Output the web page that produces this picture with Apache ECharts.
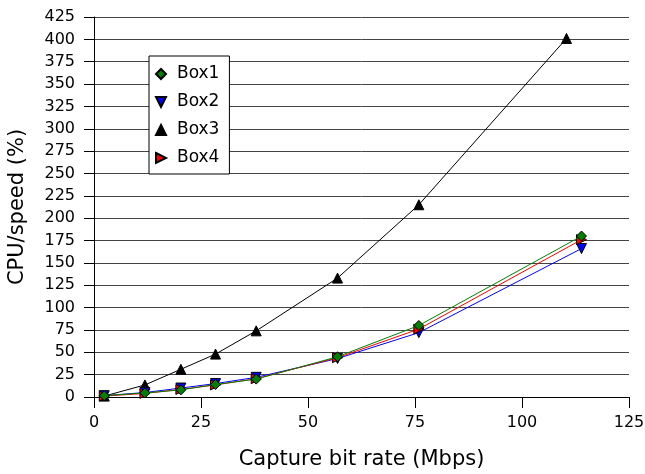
<!DOCTYPE html>
<html>
<head>
<meta charset="utf-8">
<script src="https://cdn.jsdelivr.net/npm/echarts@6/dist/echarts.min.js"></script>
<style>
  html, body { margin: 0; padding: 0; background: #fff; }
  #chart { width: 645px; height: 474px; }
</style>
</head>
<body>
<div id="chart"></div>
<script>
// capture bit rate (Mbps)
const bitRates = [2.4, 11.9, 20.3, 28.4, 37.9, 56.9, 75.9, 113.9];
const box3BitRates = [2.4, 11.9, 20.3, 28.4, 37.9, 56.9, 75.9, 110.4];

// CPU/speed (%)
const box1 = [1.5, 4.5, 8, 14, 20, 45, 80, 180];
const box2 = [1.5, 5, 10, 15, 22, 43, 72, 166];
const box3 = [1, 13.5, 31, 48, 74, 133, 215, 401];
const box4 = [1, 4, 8.5, 13.5, 20.5, 44, 76, 176];

const FONT = 'DejaVu Sans';
const DOWN = 'path://M0,0 L10,0 L5,10 Z';
const RIGHT = 'path://M0,0 L10,5 L0,10 Z';

const pairs = (xs, ys) => xs.map((x, i) => [x, ys[i]]);

function makeSeries(name, xs, ys, color, symbol, z) {
  return {
    name,
    type: 'line',
    data: pairs(xs, ys),
    symbol,
    symbolSize: 10,
    z,
    lineStyle: { color, width: 1 },
    itemStyle: { color, borderColor: '#000', borderWidth: 1 },
    emphasis: { disabled: true },
    animation: false
  };
}

const chart = echarts.init(document.getElementById('chart'));
chart.setOption({
  animation: false,
  textStyle: { fontFamily: FONT, color: '#000' },
  grid: { left: 94, right: 16, top: 17, bottom: 77, containLabel: false, outerBoundsMode: 'none' },
  legend: {
    orient: 'vertical',
    left: 149,
    top: 56,
    padding: [9, 10, 7, 6],
    itemGap: 10,
    itemWidth: 10,
    itemHeight: 10,
    backgroundColor: '#fff',
    borderColor: '#000',
    borderWidth: 1,
    borderRadius: 0,
    textStyle: { fontFamily: FONT, fontSize: 17, color: '#000', lineHeight: 18, padding: [0, 0, 0, 6] },
    data: [
      { name: 'Box1', icon: 'diamond' },
      { name: 'Box2', icon: DOWN },
      { name: 'Box3', icon: 'triangle' },
      { name: 'Box4', icon: RIGHT }
    ]
  },
  xAxis: {
    type: 'value',
    min: 0,
    max: 125,
    interval: 25,
    name: 'Capture bit rate (Mbps)',
    nameLocation: 'middle',
    nameMoveOverlap: false,
    nameGap: 52,
    nameTextStyle: { fontFamily: FONT, fontSize: 21, color: '#000' },
    axisLine: { onZero: false, lineStyle: { color: '#000', width: 1 } },
    axisTick: { show: true, length: 11, lineStyle: { color: '#000' } },
    axisLabel: { fontFamily: FONT, fontSize: 16, color: '#000', margin: 18 },
    splitLine: { show: false }
  },
  yAxis: {
    type: 'value',
    min: 0,
    max: 425,
    interval: 25,
    name: 'CPU/speed (%)',
    nameLocation: 'middle',
    nameMoveOverlap: false,
    nameGap: 66,
    nameTextStyle: { fontFamily: FONT, fontSize: 21, color: '#000' },
    axisLine: { show: true, lineStyle: { color: '#000', width: 1 } },
    axisTick: { show: true, length: 10, lineStyle: { color: '#000' } },
    axisLabel: { fontFamily: FONT, fontSize: 16, color: '#000', margin: 19 },
    splitLine: { show: true, lineStyle: { color: '#444', width: 1 } }
  },
  series: [
    makeSeries('Box1', bitRates, box1, '#008000', 'diamond', 5),
    makeSeries('Box2', bitRates, box2, '#0000ff', DOWN, 3),
    makeSeries('Box3', box3BitRates, box3, '#000000', 'triangle', 2),
    makeSeries('Box4', bitRates, box4, '#ff0000', RIGHT, 4)
  ]
});
</script>
</body>
</html>
